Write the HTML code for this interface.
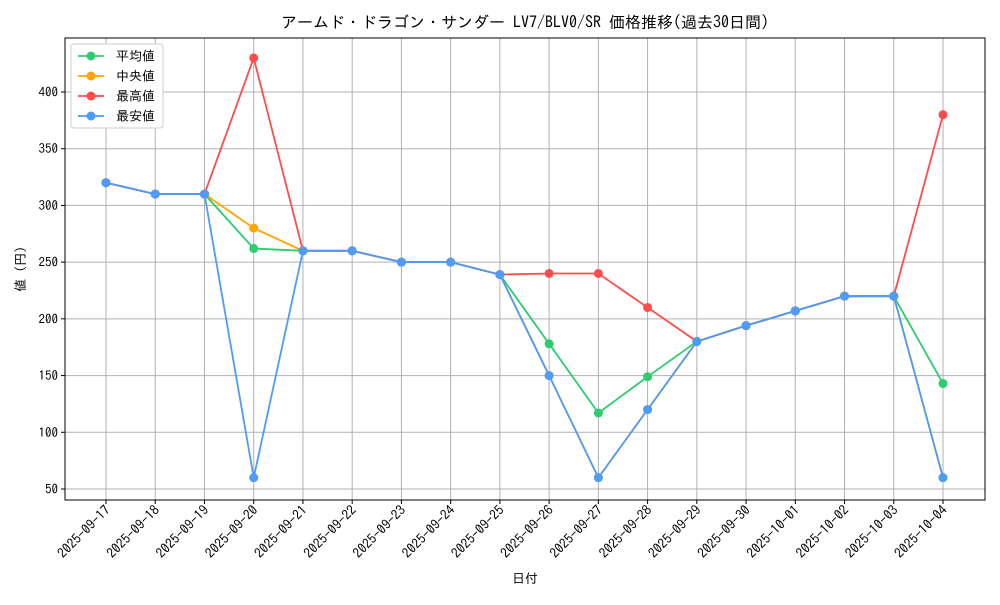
<!DOCTYPE html>
<html><head><meta charset="utf-8"><style>
body{margin:0;background:#fff;}
svg text{font-family:"IPAGothic","Noto Sans CJK JP",sans-serif;fill:#000;}
</style></head><body>
<svg id="chart" width="1000" height="600"></svg>
<script>
const dates=["2025-09-17","2025-09-18","2025-09-19","2025-09-20","2025-09-21","2025-09-22","2025-09-23","2025-09-24","2025-09-25","2025-09-26","2025-09-27","2025-09-28","2025-09-29","2025-09-30","2025-10-01","2025-10-02","2025-10-03","2025-10-04"];
const avgVals=[320,310,310,262,260,260,250,250,239,178,117,149,180,194,207,220,220,143];
const medVals=[320,310,310,280,260,260,250,250,239,150,60,120,180,194,207,220,220,60];
const maxVals=[320,310,310,430,260,260,250,250,239,240,240,210,180,194,207,220,220,380];
const minVals=[320,310,310,60,260,260,250,250,239,150,60,120,180,194,207,220,220,60];
const yTicks=[50,100,150,200,250,300,350,400];
const seriesNames=["平均値","中央値","最高値","最安値"];

const NS="http://www.w3.org/2000/svg";
const svg=document.getElementById('chart');
const L=65,R=985,T=38,B=500;
const x=i=>106+i*(943-106)/(dates.length-1);
const y=v=>489-(v-50)*(489-92)/350;
function mk(tag,attrs,parent){const e=document.createElementNS(NS,tag);for(const k in attrs)e.setAttribute(k,attrs[k]);(parent||svg).appendChild(e);return e;}

dates.forEach((d,i)=>{
  const g=mk('line',{x1:x(i),x2:x(i),y1:T,y2:B,stroke:'#b0b0b0','stroke-width':1});
  
  
  mk('line',{x1:x(i),x2:x(i),y1:B,y2:B+4,stroke:'#000'});
  const t=mk('text',{x:x(i)+5,y:B+11,'font-size':13.5,'text-anchor':'end',transform:`rotate(-45 ${x(i)+5} ${B+11})`});
  t.textContent=d;
  
  
});
yTicks.forEach(v=>{
  const g=mk('line',{x1:L,x2:R,y1:y(v),y2:y(v),stroke:'#b0b0b0','stroke-width':1});
  
  
  mk('line',{x1:L-4,x2:L,y1:y(v),y2:y(v),stroke:'#000'});
  const t=mk('text',{x:L-7,y:y(v)+4.5,'font-size':13,'text-anchor':'end'});
  t.textContent=v;
  
  
});
const frame=mk('rect',{x:L,y:T,width:R-L,height:B-T,fill:'none',stroke:'#000','stroke-width':1});



const colors=['#2ecc71','#ffa500','#ff4d4d','#4d9cf5'];
[avgVals,medVals,maxVals,minVals].forEach((vals,s)=>{
  const p=mk('polyline',{points:vals.map((v,i)=>x(i)+','+y(v)).join(' '),fill:'none',stroke:colors[s],'stroke-width':1.8});
  
  
  vals.forEach((v,i)=>{
    const c=mk('circle',{cx:x(i),cy:y(v),r:4.5,fill:colors[s]});
    
    
  });
});

const lg=mk('rect',{x:71,y:44,width:92,height:84,fill:'#fff',stroke:'#ccc',rx:3});


seriesNames.forEach((n,i)=>{
  const yy=56+i*20;
  mk('line',{x1:78,x2:104,y1:yy,y2:yy,stroke:colors[i],'stroke-width':1.8});
  mk('circle',{cx:91,cy:yy,r:4.5,fill:colors[i]});
  const t=mk('text',{x:116,y:yy+4.5,'font-size':13});
  t.textContent=n;
  
  
});

const title=mk('text',{x:525,y:28,'font-size':16,'text-anchor':'middle'});
title.textContent='アームド・ドラゴン・サンダー LV7/BLV0/SR 価格推移(過去30日間)';


const xt=mk('text',{x:525,y:583,'font-size':13,'text-anchor':'middle'});
xt.textContent='日付';


const yt=mk('text',{x:25,y:269,'font-size':13,'text-anchor':'middle',transform:'rotate(-90 25 269)'});
yt.textContent='値 (円)';


</script>
</body></html>
